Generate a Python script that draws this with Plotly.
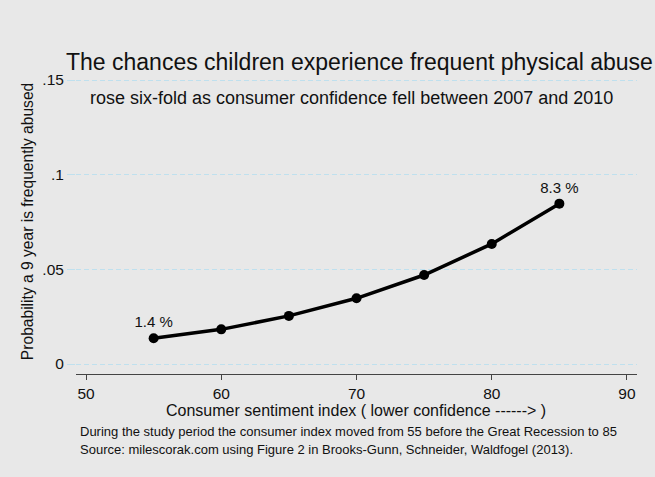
import plotly.graph_objects as go

sentiment = [55, 60, 65, 70, 75, 80, 85]
prob_abuse = [0.0136, 0.0183, 0.0254, 0.0347, 0.0470, 0.0634, 0.0847]
point_labels = ["1.4 %", "", "", "", "", "", "8.3 %"]
x_ticks = [50, 60, 70, 80, 90]
y_ticks = [0, 0.05, 0.1, 0.15]
y_tick_labels = ["0", ".05", ".1", ".15"]

FONT = "Liberation Sans, Arial, Helvetica, sans-serif"
BG = "#e8e8e8"
GRID = "#bfe0ee"

fig = go.Figure()
fig.add_trace(go.Scatter(
    x=sentiment, y=prob_abuse, mode="lines+markers+text",
    text=point_labels, textposition="top center",
    textfont=dict(family=FONT, size=15, color="#111"),
    line=dict(color="black", width=3.5),
    marker=dict(color="black", size=10),
    showlegend=False, cliponaxis=False,
))

fig.update_layout(
    width=655, height=477,
    margin=dict(l=76, r=18, t=75, b=103),
    paper_bgcolor=BG, plot_bgcolor=BG,
    font=dict(family=FONT, color="#111"),
    xaxis=dict(
        range=[49.26, 90.74], tickvals=x_ticks, ticktext=[str(v) for v in x_ticks],
        showgrid=False, zeroline=False, showline=True, linecolor="#444", linewidth=1.2,
        ticks="outside", ticklen=5, tickcolor="#444", tickwidth=1,
        tickfont=dict(size=15.5, family=FONT), automargin=False,
    ),
    yaxis=dict(
        range=[-0.00528, 0.15264], tickvals=y_ticks, ticktext=y_tick_labels,
        showgrid=True, gridcolor=GRID, griddash="5px,3px", gridwidth=1,
        zeroline=False, showline=False,
        ticks="outside", ticklen=8, tickcolor=GRID,
        tickfont=dict(size=15.5, family=FONT), automargin=False,
    ),
    annotations=[
        dict(text="The chances children experience frequent physical abuse",
             xref="paper", yref="paper", x=0.506, y=1.0, yshift=13, showarrow=False,
             xanchor="center", yanchor="middle", font=dict(size=23, family=FONT)),
        dict(text="rose six-fold as consumer confidence fell between 2007 and 2010",
             xref="paper", yref="paper", x=0.491, y=1.0, yshift=-23, showarrow=False,
             xanchor="center", yanchor="middle", font=dict(size=18, family=FONT)),
        dict(text="Consumer sentiment index ( lower confidence ------> )",
             xref="paper", yref="paper", x=0.499, y=0, yshift=-36, showarrow=False,
             xanchor="center", yanchor="middle", font=dict(size=16, family=FONT)),
        dict(text="Probability a 9 year is frequently abused", textangle=-90,
             xref="paper", yref="paper", x=-0.0873, y=0.508, showarrow=False,
             xanchor="center", yanchor="middle", font=dict(size=15.6, family=FONT)),
        dict(text="During the study period the consumer index moved from 55 before the Great Recession to 85",
             xref="paper", yref="paper", x=0.0036, y=0, yshift=-57, showarrow=False,
             xanchor="left", yanchor="middle", font=dict(size=13, family=FONT)),
        dict(text="Source: milescorak.com using Figure 2 in Brooks-Gunn, Schneider, Waldfogel (2013).",
             xref="paper", yref="paper", x=0.0036, y=0, yshift=-75, showarrow=False,
             xanchor="left", yanchor="middle", font=dict(size=13, family=FONT)),
    ],
)

fig.write_html(
    "out.html",
    config={"displayModeBar": False},
    post_script="document.body.style.margin='0';document.body.style.background='#e8e8e8';",
)
